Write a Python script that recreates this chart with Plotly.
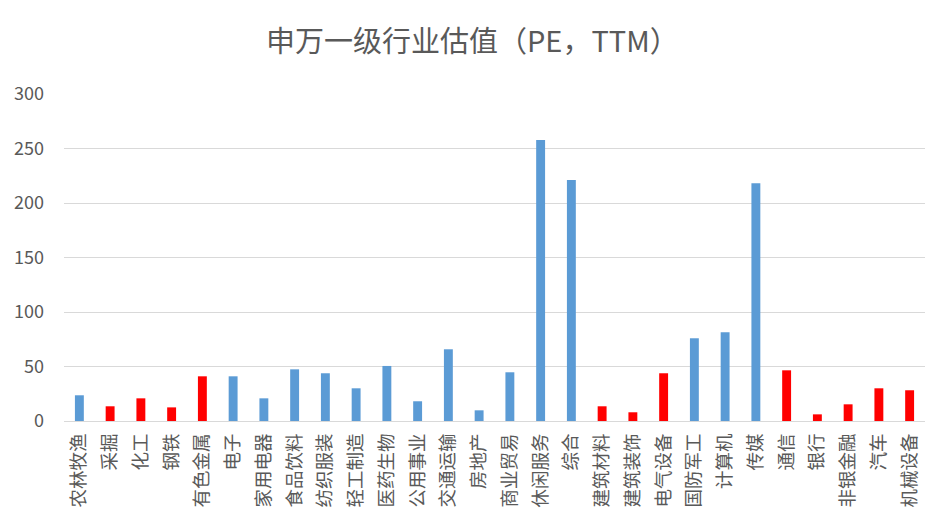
import plotly.graph_objects as go

categories = ["农林牧渔", "采掘", "化工", "钢铁", "有色金属", "电子", "家用电器", "食品饮料",
              "纺织服装", "轻工制造", "医药生物", "公用事业", "交通运输", "房地产", "商业贸易",
              "休闲服务", "综合", "建筑材料", "建筑装饰", "电气设备", "国防军工", "计算机",
              "传媒", "通信", "银行", "非银金融", "汽车", "机械设备"]
pe_values = [23.6, 13.5, 20.8, 12.5, 41.0, 41.0, 20.8, 47.4, 43.8, 30.0, 50.5, 18.1, 65.8, 9.8,
             44.7, 257.7, 221.0, 13.5, 8.0, 43.8, 75.9, 81.4, 218.2, 46.5, 6.1, 15.3, 30.0, 28.2]
highlighted = ["采掘", "化工", "钢铁", "有色金属", "建筑材料", "建筑装饰", "电气设备",
               "通信", "银行", "非银金融", "汽车", "机械设备"]

BLUE = "#5B9BD5"
RED = "#FF0000"
colors = [RED if c in highlighted else BLUE for c in categories]

FONT = "Noto Sans CJK SC"
fig = go.Figure(go.Bar(x=categories, y=pe_values, marker=dict(color=colors, line=dict(width=0))))

# page body has an 8px margin, so the figure is sized 940x515
fig.update_layout(
    width=940, height=515,
    margin=dict(l=56, r=23, t=86, b=102),
    paper_bgcolor="white", plot_bgcolor="white",
    bargap=0.71,
    showlegend=False,
    font=dict(family=FONT, color="#595959"),
    title=dict(text="申万一级行业估值（PE，TTM）", x=0.494, xanchor="center", y=0.934, yanchor="middle",
               font=dict(family=FONT, size=29, color="#595959")),
)
fig.update_yaxes(range=[0, 300], dtick=50, showgrid=True, gridcolor="#D9D9D9", gridwidth=1,
                 zeroline=False, showline=False, ticks="", tickfont=dict(size=18, color="#595959"),
                 ticklabelstandoff=19, automargin=False)
fig.update_xaxes(type="category", tickangle=-90, showline=True, linecolor="#D9D9D9", linewidth=1,
                 ticks="", tickfont=dict(size=18.5, color="#595959"), ticklabelstandoff=4,
                 automargin=False)

fig.write_html("out.html")
